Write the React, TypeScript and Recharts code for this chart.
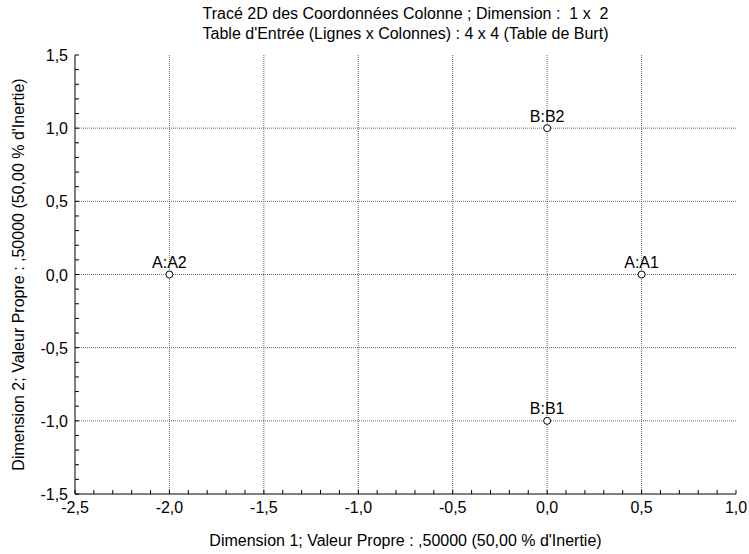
import { ScatterChart, Scatter, XAxis, YAxis, ReferenceLine, LabelList } from 'recharts'

const pointNames = ['A:A1', 'A:A2', 'B:B1', 'B:B2']
const dim1 = [0.5, -2.0, 0.0, 0.0]
const dim2 = [0.0, 0.0, -1.0, 1.0]

const xMajor = [-2.5, -2.0, -1.5, -1.0, -0.5, 0.0, 0.5, 1.0]
const yMajor = [-1.5, -1.0, -0.5, 0.0, 0.5, 1.0, 1.5]

// minor ticks every 0.1 unit
const xMinor = Array.from({ length: 36 }, (_, i) => Math.round((-2.5 + i * 0.1) * 10) / 10)
const yMinor = Array.from({ length: 31 }, (_, i) => Math.round((-1.5 + i * 0.1) * 10) / 10)

const title1 = 'Tracé 2D des Coordonnées Colonne ; Dimension :  1 x  2'
const title2 = "Table d'Entrée (Lignes x Colonnes) : 4 x 4 (Table de Burt)"
const xTitle = "Dimension 1; Valeur Propre : ,50000 (50,00  % d'Inertie)"
const yTitle = "Dimension 2; Valeur Propre : ,50000 (50,00  % d'Inertie)"

const data = pointNames.map((name, i) => ({ name, x: dim1[i], y: dim2[i] }))

const FONT = '"Liberation Sans", Arial, sans-serif'
const FS = 16
const TICK_LEN = 4

const isMajor = (v: number) => Math.abs(v * 2 - Math.round(v * 2)) < 1e-6
const fmt = (v: number) => (Math.abs(v) < 1e-9 ? 0 : v).toFixed(1).replace('.', ',')

function BottomTick(props: any) {
  const { x, y, payload } = props
  const v = payload.value as number
  return (
    <g>
      <line x1={x} x2={x} y1={y} y2={y - TICK_LEN} stroke="#000" />
      {isMajor(v) && (
        <text x={x} y={y + 19} textAnchor="middle" fontSize={FS} fontFamily={FONT} fill="#000">
          {fmt(v)}
        </text>
      )}
    </g>
  )
}

function LeftTick(props: any) {
  const { x, y, payload } = props
  const v = payload.value as number
  return (
    <g>
      <line x1={x} x2={x + TICK_LEN} y1={y} y2={y} stroke="#000" />
      {isMajor(v) && (
        <text x={x - 7} y={y + 6} textAnchor="end" fontSize={FS} fontFamily={FONT} fill="#000">
          {fmt(v)}
        </text>
      )}
    </g>
  )
}

function TopTick(props: any) {
  const { x, y } = props
  return <line x1={x} x2={x} y1={y} y2={y + TICK_LEN} stroke="#000" />
}

function RightTick(props: any) {
  const { x, y } = props
  return <line x1={x} x2={x - TICK_LEN} y1={y} y2={y} stroke="#000" />
}

function Dot(props: any) {
  const { cx, cy } = props
  return <circle cx={cx} cy={cy} r={3.5} fill="#fff" stroke="#000" strokeWidth={1} />
}

export default function App() {
  return (
    <div style={{ position: 'fixed', left: 0, top: 0, width: 749, height: 554, background: '#fff' }}>
      <div
        style={{
          position: 'absolute',
          top: 4,
          left: 75,
          width: 661,
          textAlign: 'center',
          fontFamily: FONT,
          fontSize: FS,
          lineHeight: '20px',
          color: '#000',
          whiteSpace: 'pre',
        }}
      >
        <div>{title1}</div>
        <div>{title2}</div>
      </div>
      <ScatterChart width={749} height={554} margin={{ top: 55, right: 13, bottom: 0, left: 0 }}>
        <XAxis
          type="number"
          dataKey="x"
          domain={[-2.5, 1]}
          ticks={xMinor}
          interval={0}
          allowDataOverflow
          height={60}
          tickSize={0}
          tickMargin={0}
          tick={<BottomTick />}
          axisLine={{ stroke: '#000' }}
          label={{
            value: xTitle,
            position: 'insideBottom',
            offset: 8,
            fontSize: FS,
            fontFamily: FONT,
            fill: '#000',
            style: { whiteSpace: 'pre' },
          }}
        />
        <YAxis
          type="number"
          dataKey="y"
          domain={[-1.5, 1.5]}
          ticks={yMinor}
          interval={0}
          allowDataOverflow
          width={75}
          tickSize={0}
          tickMargin={0}
          tick={<LeftTick />}
          axisLine={{ stroke: '#000' }}
          label={{
            value: yTitle,
            angle: -90,
            position: 'insideLeft',
            offset: 18,
            fontSize: FS,
            fontFamily: FONT,
            fill: '#000',
            style: { textAnchor: 'middle', whiteSpace: 'pre' },
          }}
        />
        <XAxis
          xAxisId="top"
          orientation="top"
          type="number"
          domain={[-2.5, 1]}
          ticks={xMinor}
          interval={0}
          allowDataOverflow
          height={0}
          tickSize={0}
          tickMargin={0}
          tick={<TopTick />}
          axisLine={{ stroke: '#000' }}
        />
        <YAxis
          yAxisId="right"
          orientation="right"
          type="number"
          domain={[-1.5, 1.5]}
          ticks={yMinor}
          interval={0}
          allowDataOverflow
          width={0}
          tickSize={0}
          tickMargin={0}
          tick={<RightTick />}
          axisLine={{ stroke: '#000' }}
        />
        {xMajor.slice(1, -1).map((v) => (
          <ReferenceLine key={`vx${v}`} x={v} stroke="#666" strokeDasharray="1 1" />
        ))}
        {yMajor.slice(1, -1).map((v) => (
          <ReferenceLine key={`hy${v}`} y={v} stroke="#666" strokeDasharray="1 1" />
        ))}
        <Scatter data={data} shape={<Dot />} isAnimationActive={false}>
          <LabelList dataKey="name" position="top" offset={2} fontSize={FS} fontFamily={FONT} fill="#000" />
        </Scatter>
      </ScatterChart>
    </div>
  )
}
